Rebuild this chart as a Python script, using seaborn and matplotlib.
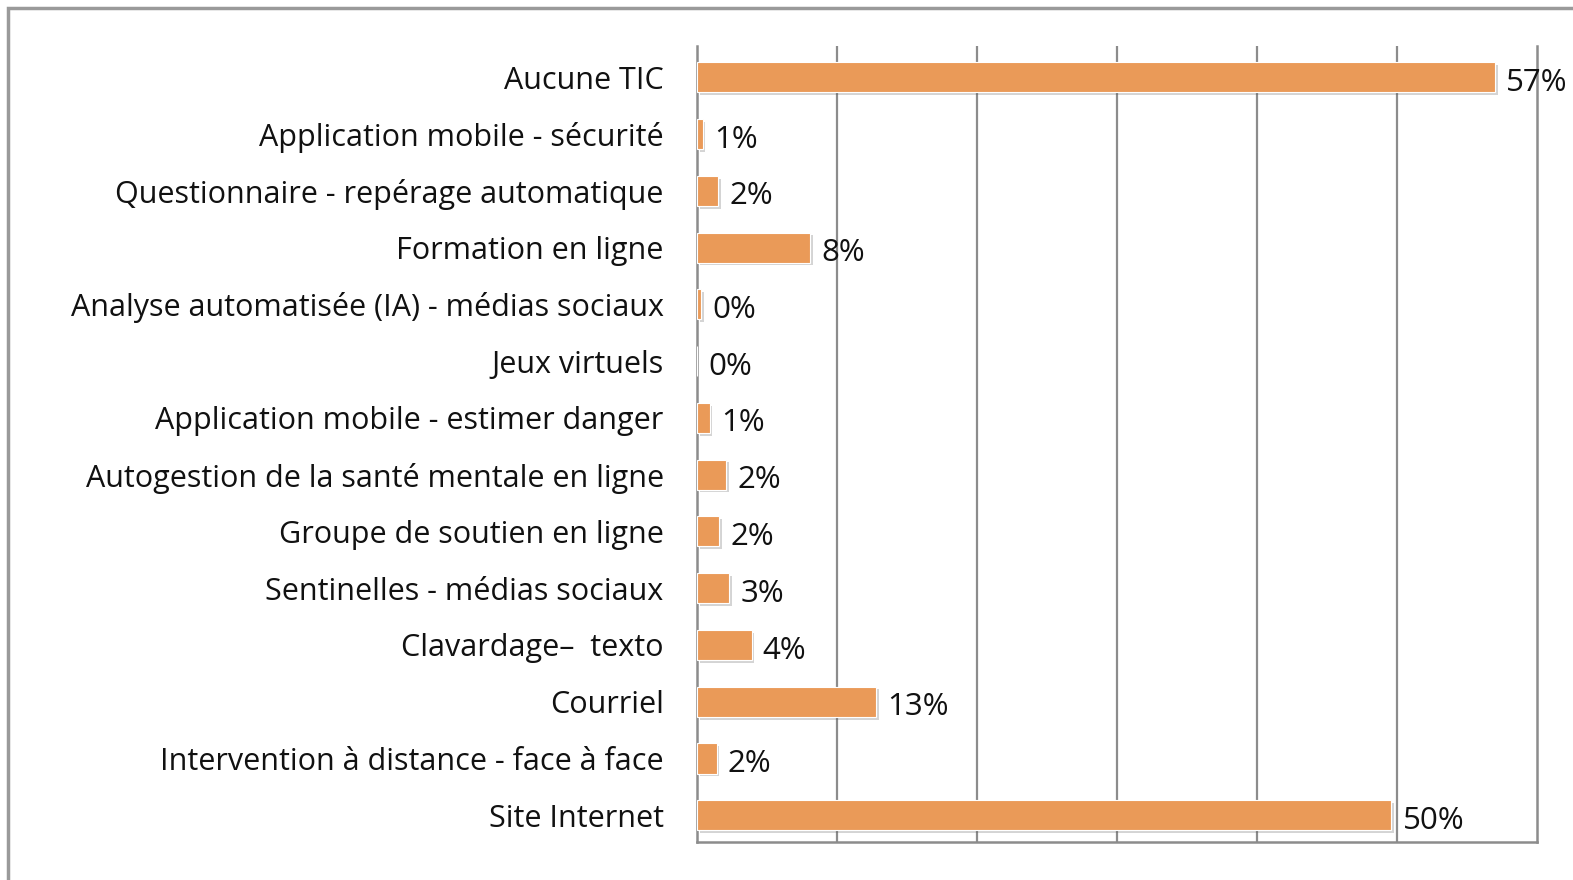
import seaborn as sns
import matplotlib.pyplot as plt
import matplotlib.patches as patches
import matplotlib.patheffects as pe

# data (top to bottom)
categories = ['Aucune TIC', 'Application mobile - sécurité', 'Questionnaire - repérage automatique',
              'Formation en ligne', 'Analyse automatisée (IA) - médias sociaux', 'Jeux virtuels',
              'Application mobile - estimer danger', 'Autogestion de la santé mentale en ligne',
              'Groupe de soutien en ligne', 'Sentinelles - médias sociaux', 'Clavardage–  texto',
              'Courriel', 'Intervention à distance - face à face', 'Site Internet']
values = [57.0, 0.4, 1.5, 8.1, 0.3, 0.0, 0.9, 2.1, 1.6, 2.3, 3.9, 12.8, 1.4, 49.6]
pct_labels = ['57%', '1%', '2%', '8%', '0%', '0%', '1%', '2%', '2%', '3%', '4%', '13%', '2%', '50%']

sns.set_style("white")
plt.rcParams['font.family'] = ['Open Sans', 'DejaVu Sans']

fig = plt.figure(figsize=(15.73, 8.8), dpi=100)
ax = fig.add_axes([697 / 1573, 1 - 842 / 880, (1537 - 697) / 1573, (842 - 46) / 880])

bar_col = '#EA9A58'
sns.barplot(x=values, y=categories, orient='h', color=bar_col, saturation=1,
            width=0.53, ax=ax, zorder=3)

shadow = [pe.SimplePatchShadow(offset=(2, -2), alpha=0.25, shadow_rgbFace='#555555'), pe.Normal()]
for p in ax.patches:
    p.set_edgecolor('white')
    p.set_linewidth(0.8)
    p.set_path_effects(shadow)

for i, (v, lab) in enumerate(zip(values, pct_labels)):
    ax.annotate(lab, xy=(v, i), xytext=(8, -4), textcoords='offset points',
                va='center', ha='left', fontsize=22.5, color='#111111', zorder=5)

ax.set_xlim(0, 60)
ax.set_ylim(13.47, -0.55)
ax.set_xticks([10, 20, 30, 40, 50])
ax.set_xticklabels([])
ax.grid(axis='x', color='#8c8c8c', linewidth=1.6, zorder=0)
ax.set_axisbelow(True)
ax.tick_params(axis='both', length=0)
ax.tick_params(axis='y', pad=24, labelsize=22, labelcolor='#111111')
ax.set_xlabel('')
ax.set_ylabel('')

ax.spines['top'].set_visible(False)
for s in ['left', 'bottom', 'right']:
    ax.spines[s].set_color('#8c8c8c')
    ax.spines[s].set_linewidth(1.8)

# outer chart frame (cut at right and bottom)
frame = patches.Rectangle((8 / 1573, -0.5), 2, 1.5 - 8 / 880, transform=fig.transFigure,
                          fill=False, edgecolor='#9a9a9a', linewidth=2.5)
fig.add_artist(frame)

fig.savefig('out.png', dpi=100)
